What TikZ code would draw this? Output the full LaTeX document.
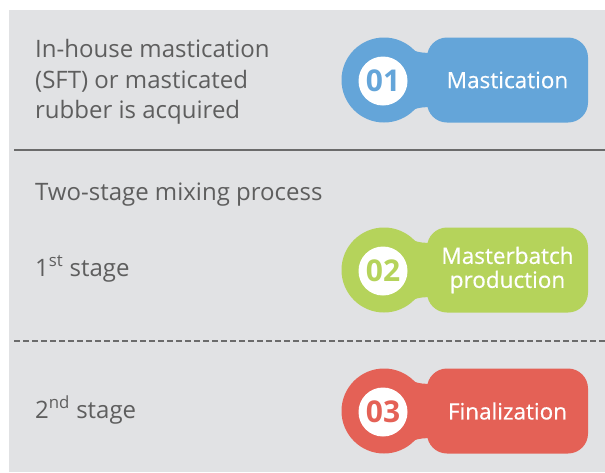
\documentclass[tikz,border=0pt]{standalone}
\usepackage{fontspec}
\setmainfont{Open Sans}
\newfontfamily\labelfont{Open Sans}[FakeBold=0.5]
\definecolor{bg}{HTML}{E1E2E4}
\definecolor{txt}{HTML}{5E5E5E}
\definecolor{rule}{HTML}{6B6B6B}
\definecolor{cblue}{HTML}{64A5D9}
\definecolor{cgreen}{HTML}{B5D35B}
\definecolor{cred}{HTML}{E46156}
\tikzset{
  lefttext/.style={anchor=base west, text=txt, inner sep=0pt, font=\fontsize{24}{30.5}\selectfont},
  pilllabel/.style={text=white, align=center, inner sep=0pt, font=\labelfont\fontsize{22.5}{24}\selectfont},
  pillnum/.style={circle, fill=white, minimum size=49pt, inner sep=0pt, font=\fontsize{30}{32}\selectfont\bfseries},
}
\newcommand\mypill[5]{%
  \node[circle, fill=#2, minimum size=85pt, inner sep=0pt] (#5c) at (384,#1) {};
  \fill[#2] (404,{#1-37}) .. controls (413,{#1-27}) and (420,{#1-27}) .. (438,{#1-27})
     -- (438,{#1+27}) .. controls (420,{#1+27}) and (413,{#1+27}) .. (404,{#1+37}) -- cycle;
  \node[rectangle, rounded corners=20pt, fill=#2, minimum width=161pt, minimum height=85pt, inner sep=0pt] (#5r) at (507.5,#1) {};
  \node[pillnum, text=#2] (#5n) at (383,{#1+1}) {#3};
  \node[pilllabel] (#5t) at (507.5,#1) {#4};
}
\begin{document}
\begin{tikzpicture}[x=1pt,y=-1pt]
\useasboundingbox (0,0) rectangle (605,472);
\fill[white] (0,0) rectangle (605,472);
\fill[bg] (9,10) rectangle (605,472);
\coordinate (s1) at (14,150);
\coordinate (s2) at (605,150);
\draw[rule, line width=1.6pt] (s1) -- (s2);
\coordinate (d1) at (14,341);
\coordinate (d2) at (605,341);
\draw[rule, line width=1.6pt, dash pattern=on 6pt off 3pt] (d1) -- (d2);
\node[lefttext] (t1) at (35,57) {In-house mastication};
\node[lefttext] (t2) at (35,88) {(SFT) or masticated};
\node[lefttext] (t3) at (35,118) {rubber is acquired};
\node[lefttext] (t4) at (35,200) {Two-stage mixing process};
\node[lefttext] (t5) at (35,276) {1\textsuperscript{st} stage};
\node[lefttext] (t6) at (35,418) {2\textsuperscript{nd} stage};
\mypill{80}{cblue}{01}{Mastication}{p1}
\mypill{270}{cgreen}{02}{Masterbatch\\production}{p2}
\mypill{411}{cred}{03}{Finalization}{p3}
\end{tikzpicture}
\end{document}
